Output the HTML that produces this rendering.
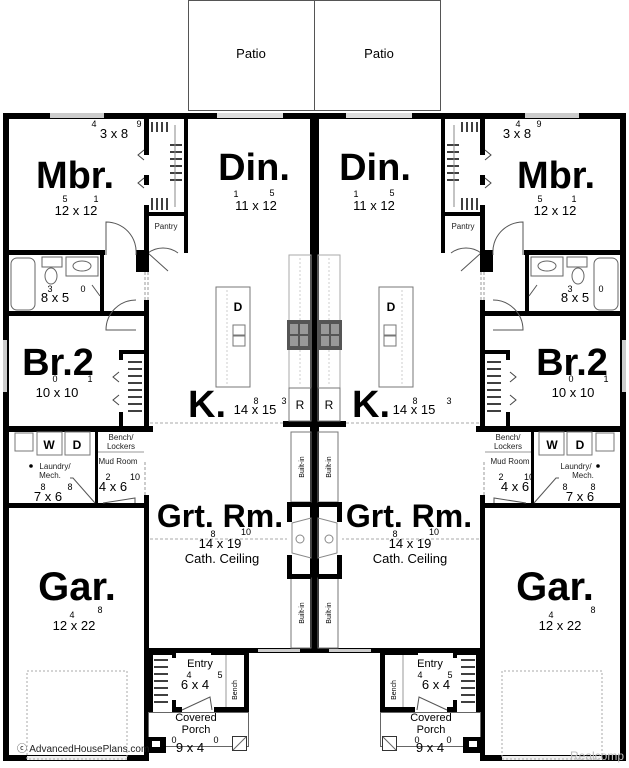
<!DOCTYPE html>
<html><head><meta charset="utf-8"><style>
html,body{margin:0;padding:0;background:#fff;}
svg{display:block;font-family:"Liberation Sans",Arial,sans-serif;}
.b{font-weight:bold;}
</style></head><body>
<svg width="629" height="768" viewBox="0 0 629 768" xmlns="http://www.w3.org/2000/svg">
<defs>
<g id="half">
  <rect x="188.5" y="0.5" width="126" height="110" fill="none" stroke="#555" stroke-width="1"/>
  <rect x="3" y="113" width="312" height="6" fill="#000"/>
  <rect x="50" y="113" width="54" height="5" fill="#ccc"/>
  <rect x="217" y="113" width="66" height="5" fill="#ddd"/>
  <rect x="3" y="113" width="6" height="648" fill="#000"/>
  <rect x="3" y="340" width="4" height="52" fill="#ccc"/>
  <rect x="3" y="755" width="145" height="6" fill="#000"/>
  <rect x="27" y="756" width="100" height="4" fill="#eee"/>
  <rect x="310" y="113" width="5" height="540" fill="#000"/>
  <rect x="144" y="113" width="5" height="42" fill="#000"/>
  <rect x="144" y="175" width="5" height="10" fill="#000"/>
  <rect x="144" y="205" width="5" height="48" fill="#000"/>
  <rect x="184" y="113" width="4" height="140" fill="#000"/>
  <rect x="148" y="212" width="38" height="4" fill="#000"/>
  <g stroke="#000" stroke-width="1.5">
    <line x1="152" y1="122" x2="152" y2="132"/><line x1="157" y1="122" x2="157" y2="132"/><line x1="162" y1="122" x2="162" y2="132"/><line x1="167" y1="122" x2="167" y2="132"/>
    <line x1="152" y1="198" x2="152" y2="210"/><line x1="157" y1="198" x2="157" y2="210"/><line x1="162" y1="198" x2="162" y2="210"/><line x1="167" y1="198" x2="167" y2="210"/>
    <line x1="170" y1="145" x2="182" y2="145"/><line x1="170" y1="152" x2="182" y2="152"/><line x1="170" y1="159" x2="182" y2="159"/><line x1="170" y1="166" x2="182" y2="166"/><line x1="170" y1="173" x2="182" y2="173"/><line x1="170" y1="180" x2="182" y2="180"/>
  </g>
  <line x1="175" y1="125" x2="175" y2="207" stroke="#888" stroke-width="1"/>
  <path d="M144 150 l-6 5 l6 5 M144 178 l-6 5 l6 5" fill="none" stroke="#444"/>
  <path d="M148 253 l20 18 M148 253 a25 25 0 0 1 30 0" fill="none" stroke="#555"/>
  <rect x="3" y="250" width="102" height="5" fill="#000"/>
  <rect x="136" y="250" width="13" height="22" fill="#000"/>
  <rect x="144" y="250" width="5" height="22" fill="#000"/>
  <path d="M136 255 a30 30 0 0 0 -30 -33 v33" fill="none" stroke="#555"/>
  <line x1="145" y1="272" x2="145" y2="300" stroke="#999" stroke-dasharray="3,2"/>
  <line x1="148" y1="272" x2="148" y2="300" stroke="#999" stroke-dasharray="3,2"/>
  <rect x="144" y="300" width="5" height="128" fill="#000"/>
  <rect x="100" y="255" width="4" height="58" fill="#000"/>
  <rect x="11" y="258" width="24" height="52" rx="6" fill="none" stroke="#666"/>
  <rect x="42" y="257" width="20" height="10" fill="none" stroke="#666"/>
  <ellipse cx="51" cy="276" rx="6" ry="8" fill="none" stroke="#666"/>
  <rect x="66" y="257" width="32" height="19" fill="none" stroke="#666"/>
  <ellipse cx="82" cy="266" rx="9" ry="5" fill="none" stroke="#666"/>
  <rect x="3" y="311" width="142" height="5" fill="#000"/>
  <path d="M100 296 l-8 -11 M136 300 a30 30 0 0 0 -30 30 h30" fill="none" stroke="#555"/>
  <rect x="119" y="350" width="28" height="4" fill="#000"/>
  <rect x="119" y="350" width="4" height="10" fill="#000"/>
  <rect x="119" y="412" width="4" height="16" fill="#000"/>
  <g stroke="#000" stroke-width="1.5">
    <line x1="128" y1="362" x2="142" y2="362"/><line x1="128" y1="369" x2="142" y2="369"/><line x1="128" y1="376" x2="142" y2="376"/><line x1="128" y1="383" x2="142" y2="383"/><line x1="128" y1="390" x2="142" y2="390"/><line x1="128" y1="397" x2="142" y2="397"/><line x1="128" y1="404" x2="142" y2="404"/><line x1="128" y1="411" x2="142" y2="411"/>
  </g>
  <path d="M119 372 l-6 5 l6 5 M119 395 l-6 5 l6 5" fill="none" stroke="#444"/>
  <rect x="3" y="426" width="150" height="6" fill="#000"/>
  <line x1="150" y1="423" x2="283" y2="423" stroke="#aaa" stroke-dasharray="3,2"/>
  <rect x="283" y="421" width="32" height="6" fill="#000"/>
  <rect x="95" y="432" width="3" height="72" fill="#000"/>
  <rect x="15" y="433" width="18" height="18" fill="none" stroke="#777"/>
  <rect x="37" y="432" width="25" height="23" fill="none" stroke="#777"/>
  <rect x="65" y="432" width="25" height="23" fill="none" stroke="#777"/>
  <line x1="98" y1="452" x2="144" y2="452" stroke="#999"/>
  <line x1="145" y1="462" x2="145" y2="495" stroke="#999" stroke-dasharray="3,2"/>
  <rect x="144" y="495" width="5" height="15" fill="#000"/>
  <rect x="3" y="503" width="146" height="5" fill="#000"/>
  <path d="M95 503 l-22 -25 a25 25 0 0 0 -3 0 M103 503 l32 -5 v5" fill="none" stroke="#555"/>
  <rect x="144" y="503" width="5" height="258" fill="#000"/>
  <rect x="27" y="671" width="100" height="88" fill="none" stroke="#aaa" stroke-dasharray="2,2"/>
  <rect x="148" y="648" width="167" height="5" fill="#000"/>
  <rect x="258" y="649" width="42" height="3" fill="#ccc"/>
  <rect x="291" y="432" width="20" height="70" fill="none" stroke="#777"/>
  <rect x="291" y="578" width="20" height="70" fill="none" stroke="#777"/>
  <rect x="287" y="502" width="24" height="5" fill="#000"/>
  <rect x="287" y="502" width="5" height="20" fill="#000"/>
  <rect x="287" y="555" width="5" height="24" fill="#000"/>
  <rect x="287" y="574" width="24" height="5" fill="#000"/>
  <path d="M292 523 l19 -5 v40 l-19 -5 z" fill="none" stroke="#888"/>
  <circle cx="300" cy="539" r="4" fill="none" stroke="#888"/>
  <line x1="150" y1="539" x2="287" y2="539" stroke="#aaa" stroke-dasharray="3,2"/>
  <rect x="289" y="255" width="22" height="166" fill="none" stroke="#aaa"/>
  <line x1="300" y1="258" x2="300" y2="385" stroke="#ccc" stroke-dasharray="2,2"/>
  <rect x="287" y="320" width="24" height="30" fill="#555"/>
  <rect x="290" y="324" width="8" height="10" fill="#999"/><rect x="300" y="324" width="8" height="10" fill="#999"/>
  <rect x="290" y="336" width="8" height="10" fill="#999"/><rect x="300" y="336" width="8" height="10" fill="#999"/>
  <rect x="289" y="388" width="22" height="33" fill="none" stroke="#777"/>
  <rect x="216" y="287" width="34" height="100" fill="none" stroke="#777"/>
  <line x1="227" y1="290" x2="227" y2="384" stroke="#ccc" stroke-dasharray="2,2"/>
  <rect x="233" y="325" width="12" height="10" fill="none" stroke="#777"/>
  <rect x="233" y="336" width="12" height="10" fill="none" stroke="#777"/>
  <rect x="148" y="650" width="25" height="5" fill="#000"/>
  <rect x="148" y="650" width="5" height="62" fill="#000"/>
  <rect x="172" y="650" width="4" height="8" fill="#000"/>
  <rect x="172" y="700" width="4" height="12" fill="#000"/>
  <g stroke="#000" stroke-width="1.5">
    <line x1="154" y1="660" x2="168" y2="660"/><line x1="154" y1="667" x2="168" y2="667"/><line x1="154" y1="674" x2="168" y2="674"/><line x1="154" y1="681" x2="168" y2="681"/><line x1="154" y1="688" x2="168" y2="688"/><line x1="154" y1="695" x2="168" y2="695"/><line x1="154" y1="702" x2="168" y2="702"/>
  </g>
  <rect x="211" y="650" width="37" height="5" fill="#000"/>
  <rect x="244" y="650" width="5" height="62" fill="#000"/>
  <line x1="226" y1="655" x2="226" y2="708" stroke="#999"/>
  <rect x="172" y="707" width="10" height="5" fill="#000"/>
  <rect x="214" y="707" width="34" height="5" fill="#000"/>
  <path d="M182 710 l28 -13 l2 13" fill="none" stroke="#555"/>
  <rect x="148.5" y="712.5" width="100" height="34" fill="none" stroke="#666"/>
  <rect x="148" y="737" width="18" height="16" fill="#000"/>
  <rect x="152" y="741" width="8" height="6" fill="#fff"/>
  <rect x="232.5" y="736.5" width="14" height="14" fill="#fff" stroke="#333"/>
  <line x1="233" y1="750" x2="246" y2="737" stroke="#666"/>
</g>
</defs>
<use href="#half"/>
<use href="#half" transform="translate(629,0) scale(-1,1)"/>

<g font-size="13" text-anchor="middle">
<text x="251" y="58">Patio</text><text x="379" y="58">Patio</text>
</g>
<g class="b" text-anchor="middle">
<text x="75" y="188" font-size="38">Mbr.</text>
<text x="254" y="180" font-size="38">Din.</text>
<text x="375" y="180" font-size="38">Din.</text>
<text x="556" y="188" font-size="38">Mbr.</text>
<text x="58" y="375" font-size="38">Br.2</text>
<text x="572" y="375" font-size="38">Br.2</text>
<text x="207" y="417" font-size="38">K.</text>
<text x="371" y="417" font-size="38">K.</text>
<text x="220" y="527" font-size="32">Grt. Rm.</text>
<text x="409" y="527" font-size="32">Grt. Rm.</text>
<text x="77" y="600" font-size="40">Gar.</text>
<text x="555" y="600" font-size="40">Gar.</text>
</g>
<g font-size="13" text-anchor="middle">
<text x="76" y="215">12 x 12</text><text x="256" y="210">11 x 12</text>
<text x="374" y="210">11 x 12</text><text x="555" y="215">12 x 12</text>
<text x="114" y="138">3 x 8</text><text x="517" y="138">3 x 8</text>
<text x="55" y="302">8 x 5</text><text x="575" y="302">8 x 5</text>
<text x="57" y="397">10 x 10</text><text x="573" y="397">10 x 10</text>
<text x="255" y="414">14 x 15</text><text x="414" y="414">14 x 15</text>
<text x="220" y="548">14 x 19</text><text x="410" y="548">14 x 19</text>
<text x="222" y="563">Cath. Ceiling</text><text x="410" y="563">Cath. Ceiling</text>
<text x="74" y="630">12 x 22</text><text x="560" y="630">12 x 22</text>
<text x="48" y="501">7 x 6</text><text x="580" y="501">7 x 6</text>
<text x="113" y="491">4 x 6</text><text x="515" y="491">4 x 6</text>
<text x="195" y="689">6 x 4</text><text x="436" y="689">6 x 4</text>
<text x="190" y="752">9 x 4</text><text x="430" y="752">9 x 4</text>
</g>
<g font-size="9" text-anchor="middle">
<text x="94" y="127">4</text><text x="139" y="127">9</text><text x="518" y="127">4</text><text x="539" y="127">9</text>
<text x="65" y="202">5</text><text x="96" y="202">1</text><text x="540" y="202">5</text><text x="574" y="202">1</text>
<text x="236" y="197">1</text><text x="272" y="196">5</text><text x="356" y="197">1</text><text x="392" y="196">5</text>
<text x="50" y="292">3</text><text x="83" y="292">0</text><text x="570" y="292">3</text><text x="601" y="292">0</text>
<text x="55" y="382">0</text><text x="90" y="382">1</text><text x="571" y="382">0</text><text x="606" y="382">1</text>
<text x="256" y="404">8</text><text x="284" y="404">3</text><text x="415" y="404">8</text><text x="449" y="404">3</text>
<text x="213" y="537">8</text><text x="246" y="535">10</text><text x="395" y="537">8</text><text x="434" y="535">10</text>
<text x="72" y="618">4</text><text x="100" y="613">8</text><text x="551" y="618">4</text><text x="593" y="613">8</text>
<text x="43" y="490">8</text><text x="70" y="490">8</text><text x="565" y="490">8</text><text x="593" y="490">8</text>
<text x="108" y="480">2</text><text x="135" y="480">10</text><text x="501" y="480">2</text><text x="529" y="480">10</text>
<text x="189" y="678">4</text><text x="220" y="678">5</text><text x="420" y="678">4</text><text x="450" y="678">5</text>
<text x="174" y="743">0</text><text x="216" y="743">0</text><text x="417" y="743">0</text><text x="449" y="743">0</text>
</g>
<g font-size="12" font-weight="bold" text-anchor="middle">
<text x="49" y="449">W</text><text x="77" y="449">D</text>
<text x="552" y="449">W</text><text x="580" y="449">D</text>
<text x="238" y="311">D</text><text x="391" y="311">D</text>
<text x="300" y="409" font-weight="normal">R</text><text x="329" y="409" font-weight="normal">R</text>
</g>
<g font-size="8" text-anchor="middle" fill="#222">
<text x="166" y="229">Pantry</text><text x="463" y="229">Pantry</text>
<text x="121" y="440">Bench/</text><text x="121" y="449">Lockers</text>
<text x="508" y="440">Bench/</text><text x="508" y="449">Lockers</text>
<text x="118" y="464">Mud Room</text><text x="510" y="464">Mud Room</text>
<text x="55" y="469">Laundry/</text><text x="50" y="478">Mech.</text>
<text x="576" y="469">Laundry/</text><text x="583" y="478">Mech.</text>
</g>
<g font-size="11" text-anchor="middle">
<text x="200" y="667">Entry</text><text x="430" y="667">Entry</text>
<text x="196" y="721">Covered</text><text x="196" y="733">Porch</text>
<text x="431" y="721">Covered</text><text x="431" y="733">Porch</text>
</g>
<g font-size="7" text-anchor="middle">
<text transform="translate(304,467) rotate(-90)">Built-in</text>
<text transform="translate(304,613) rotate(-90)">Built-in</text>
<text transform="translate(331,467) rotate(-90)">Built-in</text>
<text transform="translate(331,613) rotate(-90)">Built-in</text>
<text transform="translate(237,690) rotate(-90)">Bench</text>
<text transform="translate(396,690) rotate(-90)">Bench</text>
</g>
<circle cx="31" cy="466" r="1.8" fill="#000"/><circle cx="598" cy="466" r="1.8" fill="#000"/>
<text x="17" y="752" font-size="10" fill="#222">ⓒ AdvancedHousePlans.com</text>
<text x="570" y="760" font-size="12" fill="#bbb">Realcomp</text>
</svg>
</body></html>
